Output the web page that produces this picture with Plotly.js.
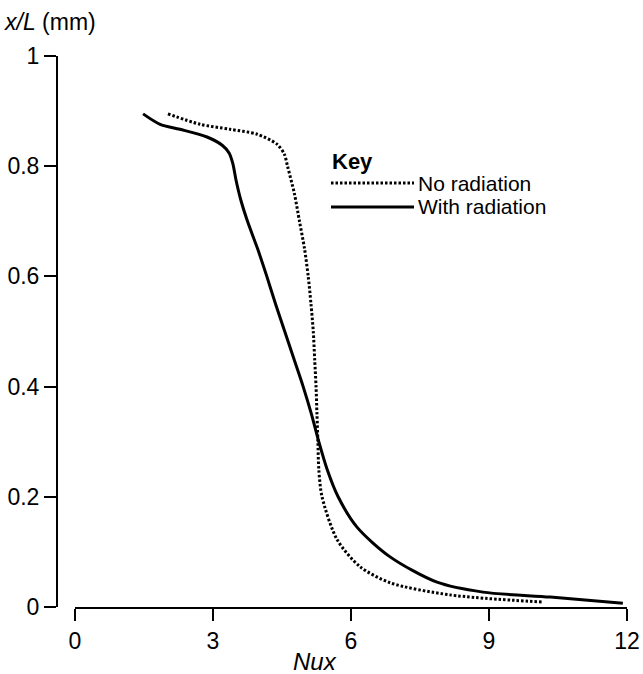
<!DOCTYPE html>
<html>
<head>
<meta charset="utf-8">
<script src="https://cdn.plot.ly/plotly-3.0.1.min.js"></script>
<style>html,body{margin:0;padding:0;background:#fff;}#chart{width:643px;height:674px;}</style>
</head>
<body>
<div id="chart"></div>
<script>
// With radiation (solid)
const withRadNu = [1.48, 1.85, 2.28, 2.87, 3.20, 3.35, 3.43, 3.50, 3.60, 3.75, 3.97, 4.17, 4.36, 4.56, 4.76, 4.96, 5.14, 5.30, 5.48, 5.72, 6.13, 6.85, 7.87, 8.87, 10.33, 11.91];
const withRadXL = [0.895, 0.876, 0.867, 0.853, 0.838, 0.824, 0.805, 0.775, 0.740, 0.700, 0.650, 0.600, 0.550, 0.500, 0.450, 0.400, 0.350, 0.300, 0.250, 0.200, 0.145, 0.091, 0.045, 0.027, 0.018, 0.007];
// No radiation (dotted)
const noRadNu = [2.02, 2.72, 3.37, 3.96, 4.39, 4.55, 4.62, 4.77, 4.88, 4.99, 5.07, 5.13, 5.18, 5.21, 5.24, 5.26, 5.28, 5.30, 5.37, 5.70, 6.20, 6.85, 8.15, 10.15];
const noRadXL = [0.895, 0.876, 0.867, 0.858, 0.840, 0.822, 0.800, 0.750, 0.700, 0.650, 0.600, 0.550, 0.500, 0.450, 0.400, 0.350, 0.300, 0.250, 0.200, 0.122, 0.073, 0.044, 0.022, 0.009];

const xTicks = [0, 3, 6, 9, 12];
const xTickText = ['0', '3', '6', '9', '12'];
const yTicks = [0, 0.2, 0.4, 0.6, 0.8, 1];
const yTickText = ['0', '0.2', '0.4', '0.6', '0.8', '1'];
const seriesNames = ['No radiation', 'With radiation'];

const FONT = '"Liberation Sans", Arial, Helvetica, sans-serif';

const traces = [
  {x: noRadNu, y: noRadXL, mode: 'lines', name: seriesNames[0], line: {color: '#000', width: 3, dash: '2.5px,2px', shape: 'spline', smoothing: 0.8}, showlegend: false, hoverinfo: 'skip'},
  {x: withRadNu, y: withRadXL, mode: 'lines', name: seriesNames[1], line: {color: '#000', width: 3, shape: 'spline', smoothing: 0.8}, showlegend: false, hoverinfo: 'skip'}
];

const W = 570, H = 551;
const px = p => (p - 57) / W;
const py = p => (607 - p) / H;

const layout = {
  width: 643, height: 674,
  margin: {l: 57, r: 16, t: 56, b: 67},
  paper_bgcolor: '#fff', plot_bgcolor: '#fff',
  font: {family: FONT, size: 23, color: '#000'},
  showlegend: false,
  xaxis: {
    domain: [18 / W, 1], range: [0, 12],
    tickvals: xTicks, ticktext: xTickText,
    ticks: 'outside', ticklen: 12, tickwidth: 2, tickcolor: '#000',
    showline: true, linewidth: 2, linecolor: '#000',
    showgrid: false, zeroline: false,
    tickfont: {family: FONT, size: 23, color: '#000'}
  },
  yaxis: {
    anchor: 'free', position: 0, range: [0, 1],
    tickvals: yTicks, ticktext: yTickText,
    ticks: 'outside', ticklen: 12, tickwidth: 2, tickcolor: '#000',
    showline: true, linewidth: 2, linecolor: '#000',
    showgrid: false, zeroline: false,
    tickfont: {family: FONT, size: 23, color: '#000'}
  },
  annotations: [
    {xref: 'paper', yref: 'paper', x: px(2), y: py(22), xanchor: 'left', yanchor: 'middle', showarrow: false,
     text: '<i>x/L</i> (mm)', font: {family: FONT, size: 23, color: '#000'}},
    {xref: 'paper', yref: 'paper', x: px(315), y: py(661), xanchor: 'center', yanchor: 'middle', showarrow: false,
     text: '<i>Nux</i>', font: {family: FONT, size: 24, color: '#000'}},
    {xref: 'paper', yref: 'paper', x: px(330), y: py(161), xanchor: 'left', yanchor: 'middle', showarrow: false,
     text: '<b>Key</b>', font: {family: FONT, size: 22, color: '#000'}},
    {xref: 'paper', yref: 'paper', x: px(416), y: py(183), xanchor: 'left', yanchor: 'middle', showarrow: false,
     text: seriesNames[0], font: {family: FONT, size: 21, color: '#000'}},
    {xref: 'paper', yref: 'paper', x: px(416), y: py(206), xanchor: 'left', yanchor: 'middle', showarrow: false,
     text: seriesNames[1], font: {family: FONT, size: 21, color: '#000'}}
  ],
  shapes: [
    {type: 'line', xref: 'paper', yref: 'paper', x0: px(331), x1: px(414), y0: py(183), y1: py(183),
     line: {color: '#000', width: 3, dash: '2.5px,2px'}},
    {type: 'line', xref: 'paper', yref: 'paper', x0: px(331), x1: px(414), y0: py(207), y1: py(207),
     line: {color: '#000', width: 3}}
  ]
};

Plotly.newPlot('chart', traces, layout, {displayModeBar: false, staticPlot: true});
</script>
</body>
</html>
